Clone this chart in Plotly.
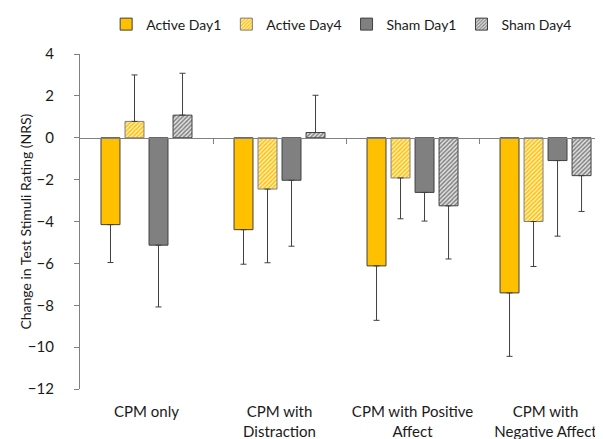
import plotly.graph_objects as go

categories = ["CPM only", "CPM with<br>Distraction", "CPM with Positive<br>Affect", "CPM with<br>Negative Affect"]
series_names = ["Active Day1", "Active Day4", "Sham Day1", "Sham Day4"]
active_day1 = [-4.15, -4.39, -6.12, -7.41]
active_day4 = [0.78, -2.45, -1.92, -4.00]
sham_day1 = [-5.13, -2.03, -2.61, -1.09]
sham_day4 = [1.08, 0.25, -3.25, -1.81]
err_active_day1 = [1.81, 1.65, 2.60, 3.03]
err_active_day4 = [2.22, 3.52, 1.95, 2.15]
err_sham_day1 = [2.95, 3.15, 1.37, 3.61]
err_sham_day4 = [2.00, 1.78, 2.54, 1.71]
y_ticks = [4, 2, 0, -2, -4, -6, -8, -10, -12]
y_title = "Change in Test Stimuli Rating (NRS)"

values = [active_day1, active_day4, sham_day1, sham_day4]
errors = [err_active_day1, err_active_day4, err_sham_day1, err_sham_day4]
styles = [
    dict(color="#FFC000", pattern=None, line="#404040"),
    dict(color="#FFF2CC", pattern=dict(shape="/", fgcolor="#FFC000", bgcolor="#FFF0C0", size=3, solidity=0.5), line="#7F7F7F"),
    dict(color="#808080", pattern=None, line="#404040"),
    dict(color="#D0D0D0", pattern=dict(shape="/", fgcolor="#808080", bgcolor="#E6E6E6", size=3, solidity=0.5), line="#404040"),
]

font_family = "Lato, Calibri, Carlito, sans-serif"
fig = go.Figure()
for name, vals, errs, st in zip(series_names, values, errors, styles):
    plus = [e if v >= 0 else 0 for v, e in zip(vals, errs)]
    minus = [e if v < 0 else 0 for v, e in zip(vals, errs)]
    marker = dict(color=st["color"], line=dict(color=st["line"], width=1))
    if st["pattern"]:
        marker["pattern"] = dict(fillmode="replace", **st["pattern"])
    fig.add_trace(go.Bar(
        name=name, x=categories, y=vals, marker=marker,
        error_y=dict(type="data", symmetric=False, array=plus, arrayminus=minus,
                     color="#404040", thickness=1, width=3),
    ))

# dummy trace to render the zero-crossing category axis
fig.add_trace(go.Scatter(x=[], y=[], xaxis="x2", showlegend=False, hoverinfo="skip"))

n = len(categories)
xr = [-0.5, 3.432]
fig.update_layout(
    width=595, height=431,
    margin=dict(l=72, r=0, t=42, b=50),
    paper_bgcolor="white", plot_bgcolor="white",
    font=dict(family=font_family, size=15, color="#1a1a1a"),
    barmode="group", bargap=0.278, bargroupgap=0.21,
    showlegend=True,
    legend=dict(orientation="h", x=0.05, y=1.088, xanchor="left", yanchor="middle",
                font=dict(size=14), traceorder="normal", itemwidth=30,
                bgcolor="rgba(0,0,0,0)"),
    xaxis=dict(type="category", range=xr, showline=False, ticks="", showgrid=False,
               zeroline=False, tickfont=dict(size=15), automargin=False,
               ticklabelstandoff=12),
    xaxis2=dict(type="linear", overlaying="x", anchor="free", position=0.75, range=xr,
                showline=True, linecolor="#808080", linewidth=1.3, ticks="outside",
                tickvals=[i + 0.5 for i in range(n - 1)], ticklen=5, tickcolor="#808080",
                showticklabels=False, showgrid=False, zeroline=False, automargin=False),
    yaxis=dict(range=[-12, 4], tickvals=y_ticks, showline=True, linecolor="#808080",
               linewidth=1.3, ticks="outside", ticklen=5, tickcolor="#808080",
               showgrid=False, zeroline=False, tickfont=dict(size=15), automargin=False,
               ticklabelstandoff=17),
    annotations=[dict(text=y_title, textangle=-90, xref="paper", yref="paper",
                      x=-0.105, y=0.5, xanchor="center", yanchor="middle",
                      showarrow=False, font=dict(size=14))],
)

fig.write_html("out.html")
